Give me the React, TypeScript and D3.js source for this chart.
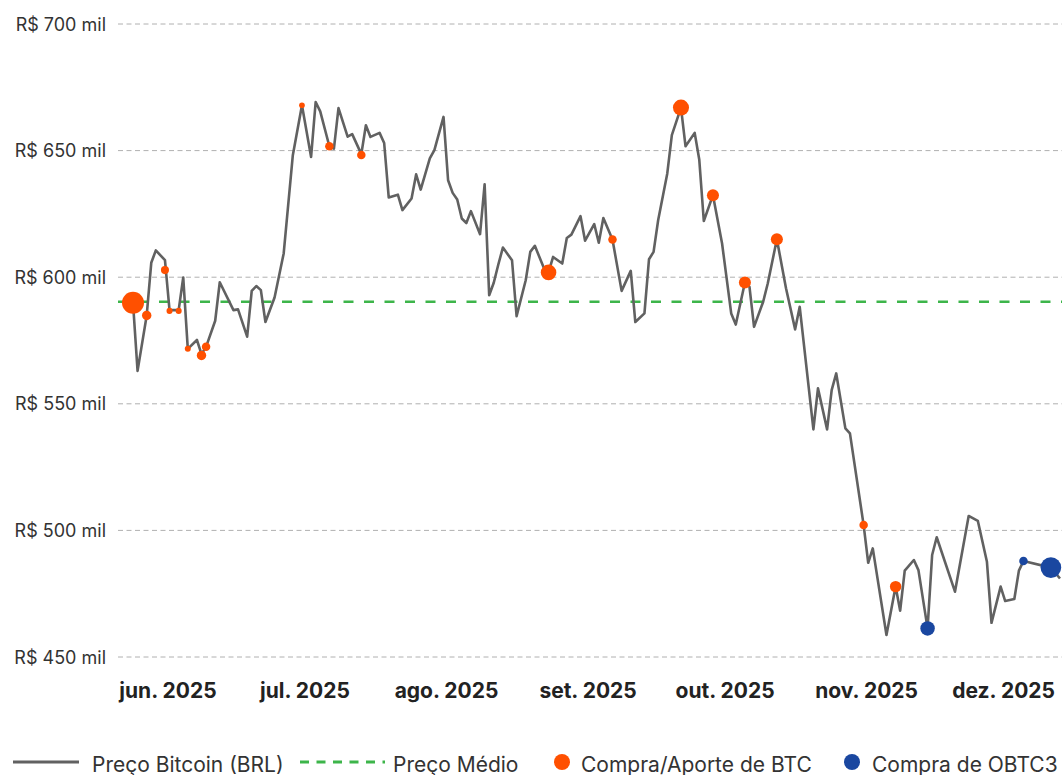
import React from "react";
import * as d3 from "d3";

// ---------- DATA ----------
const priceDates: string[] = [
  "2025-05-25","2025-05-26","2025-05-28","2025-05-29","2025-05-30","2025-06-01","2025-06-02","2025-06-04","2025-06-05","2025-06-06",
  "2025-06-08","2025-06-09","2025-06-10","2025-06-12","2025-06-13","2025-06-16","2025-06-17","2025-06-19","2025-06-20","2025-06-21",
  "2025-06-22","2025-06-23","2025-06-25","2025-06-27","2025-06-29","2025-07-01","2025-07-03","2025-07-04","2025-07-05","2025-07-07",
  "2025-07-08","2025-07-09","2025-07-11","2025-07-12","2025-07-14","2025-07-15","2025-07-16","2025-07-18","2025-07-19","2025-07-20",
  "2025-07-22","2025-07-23","2025-07-25","2025-07-26","2025-07-27","2025-07-29","2025-07-30","2025-08-01","2025-08-02","2025-08-03",
  "2025-08-04","2025-08-05","2025-08-06","2025-08-07","2025-08-09","2025-08-10","2025-08-11","2025-08-12","2025-08-13","2025-08-14",
  "2025-08-16","2025-08-17","2025-08-19","2025-08-20","2025-08-21","2025-08-23","2025-08-24","2025-08-25","2025-08-27","2025-08-28",
  "2025-08-29","2025-08-31","2025-09-01","2025-09-03","2025-09-04","2025-09-05","2025-09-07","2025-09-09","2025-09-11","2025-09-12",
  "2025-09-14","2025-09-15","2025-09-16","2025-09-17","2025-09-19","2025-09-20","2025-09-22","2025-09-23","2025-09-25","2025-09-26",
  "2025-09-27","2025-09-29","2025-10-01","2025-10-03","2025-10-04","2025-10-06","2025-10-07","2025-10-08","2025-10-10","2025-10-11",
  "2025-10-13","2025-10-15","2025-10-17","2025-10-18","2025-10-21","2025-10-22","2025-10-24","2025-10-25","2025-10-26","2025-10-28",
  "2025-10-29","2025-11-01","2025-11-02","2025-11-03","2025-11-06","2025-11-08","2025-11-09","2025-11-10","2025-11-12","2025-11-13",
  "2025-11-15","2025-11-16","2025-11-17","2025-11-21","2025-11-24","2025-11-26","2025-11-28","2025-11-29","2025-12-01","2025-12-02",
  "2025-12-04","2025-12-05","2025-12-06","2025-12-12","2025-12-14",
];
const priceValues: number[] = [
  589.9,563.0,584.9,605.7,610.6,606.7,587.0,587.0,599.9,571.7,
  575.2,569.6,572.5,582.8,598.0,587.0,587.3,576.5,594.6,596.5,
  594.9,582.3,592.0,609.4,648.2,667.9,647.5,669.2,665.5,651.7,
  650.8,666.8,655.5,656.5,648.6,660.0,655.4,657.0,653.0,631.5,
  632.6,626.5,631.1,640.6,634.6,646.9,650.2,663.3,638.3,633.3,
  630.7,623.2,621.4,626.1,617.0,636.7,592.9,597.8,605.0,611.7,
  606.7,584.6,598.8,610.0,612.4,603.5,602.0,608.0,605.4,615.5,
  616.8,624.1,614.4,621.0,613.6,623.4,614.9,594.6,602.5,582.3,
  585.7,607.1,610.0,622.5,641.0,656.1,667.0,651.7,657.0,646.5,
  622.2,632.4,613.3,585.7,581.3,597.9,596.2,580.4,590.3,597.5,
  615.0,595.6,579.4,588.3,539.9,556.1,539.9,555.4,562.0,540.3,
  538.3,502.1,487.2,492.9,458.7,477.8,468.3,484.1,488.3,484.3,
  461.3,490.3,497.3,475.8,505.7,503.8,487.6,463.5,477.8,472.1,
  472.9,484.1,487.9,485.3,481.0,
];

const averagePrice = 590.3; // R$ mil

const btcBuyDates: string[] = [
  "2025-05-25","2025-05-28","2025-06-01","2025-06-02","2025-06-04","2025-06-06","2025-06-09","2025-06-10",
  "2025-07-01","2025-07-07","2025-07-14","2025-08-24","2025-09-07","2025-09-22","2025-09-29","2025-10-06",
  "2025-10-13","2025-11-01","2025-11-08",
];
const btcBuyPrices: number[] = [
  589.9,584.9,602.8,586.7,586.7,571.7,569.1,572.5,
  667.9,651.7,648.3,601.9,614.9,667.0,632.4,597.9,
  615.0,502.1,477.8,
];
const btcBuyAmounts: number[] = [
  6000,1100,800,450,450,450,1100,900,
  400,900,900,3000,900,3200,1800,1800,
  1800,900,1600,
];

const obtcBuyDates: string[] = ["2025-11-15","2025-12-06","2025-12-12"];
const obtcBuyPrices: number[] = [461.3,487.9,485.3];
const obtcBuyAmounts: number[] = [2600,900,5300];

const yTicks: number[] = [450, 500, 550, 600, 650, 700];
const monthTicks: string[] = ["2025-06-01","2025-07-01","2025-08-01","2025-09-01","2025-10-01","2025-11-01","2025-12-01"];
const monthLabels: string[] = ["jun. 2025","jul. 2025","ago. 2025","set. 2025","out. 2025","nov. 2025","dez. 2025"];

const legendLabels: string[] = ["Preço Bitcoin (BRL)", "Preço Médio", "Compra/Aporte de BTC", "Compra de OBTC3"];

// ---------- STYLE ----------
const W = 1062;
const H = 775;
const FONT = "Inter, 'Noto Sans', sans-serif";
const LINE_COLOR = "#616161";
const AVG_COLOR = "#3db54a";
const BTC_COLOR = "#ff5000";
const OBTC_COLOR = "#1a47a0";
const GRID_COLOR = "#b0b0b0";

const parse = d3.utcParse("%Y-%m-%d");

export default function App() {
  const x = d3
    .scaleUtc()
    .domain([parse("2025-05-25")!, parse("2025-12-14")!])
    .range([133, 1060]);
  const y = d3.scaleLinear().domain([450, 700]).range([657, 24]);
  const r = d3.scaleSqrt().domain([0, 6000]).range([0, 11]);

  const series = priceDates.map((d, i) => ({ date: parse(d)!, v: priceValues[i] }));
  const line = d3
    .line<{ date: Date; v: number }>()
    .x((d) => x(d.date))
    .y((d) => y(d.v));

  const btcPts = btcBuyDates.map((d, i) => ({ date: parse(d)!, v: btcBuyPrices[i], a: btcBuyAmounts[i] }));
  const obtcPts = obtcBuyDates.map((d, i) => ({ date: parse(d)!, v: obtcBuyPrices[i], a: obtcBuyAmounts[i] }));

  const gridX0 = 118;
  const legendY = 764;

  return (
    <>
      <style>{`body{margin:0;}`}</style>
      <svg width={W} height={H} style={{ display: "block", fontFamily: FONT }}>
        <defs>
          <clipPath id="plotClip">
            <rect x={gridX0} y={0} width={W - gridX0} height={700} />
          </clipPath>
        </defs>
        {/* grid + y labels */}
        {yTicks.map((t) => (
          <g key={t}>
            <line
              x1={gridX0}
              x2={W}
              y1={y(t)}
              y2={y(t)}
              stroke={GRID_COLOR}
              strokeWidth={1}
              strokeDasharray="5 3.5"
            />
            <text
              x={106}
              y={y(t)}
              textAnchor="end"
              dominantBaseline="central"
              fontSize={18}
              fill="#333"
            >
              {`R$ ${t} mil`}
            </text>
          </g>
        ))}
        {/* month labels */}
        {monthTicks.map((m, i) => (
          <text
            key={m}
            x={x(parse(m)!) + 3}
            y={698}
            textAnchor="middle"
            fontSize={21}
            fontWeight={700}
            fill="#222"
          >
            {monthLabels[i]}
          </text>
        ))}
        <g clipPath="url(#plotClip)">
          {/* average price */}
          <line
            x1={gridX0}
            x2={W}
            y1={y(averagePrice)}
            y2={y(averagePrice)}
            stroke={AVG_COLOR}
            strokeWidth={2.5}
            strokeDasharray="10 10.5"
          />
          {/* price line */}
          <path d={line(series) || ""} fill="none" stroke={LINE_COLOR} strokeWidth={2.6} strokeLinejoin="round" />
          {btcPts.map((p, i) => (
            <circle key={"b" + i} cx={x(p.date)} cy={y(p.v)} r={r(p.a)} fill={BTC_COLOR} />
          ))}
          {obtcPts.map((p, i) => (
            <circle key={"o" + i} cx={x(p.date)} cy={y(p.v)} r={r(p.a)} fill={OBTC_COLOR} />
          ))}
        </g>
        {/* legend */}
        <g fontSize={21} fill="#333">
          <line x1={13} x2={79} y1={legendY - 2} y2={legendY - 2} stroke={LINE_COLOR} strokeWidth={3} />
          <text x={92} y={legendY} dominantBaseline="central">{legendLabels[0]}</text>
          <line x1={300} x2={385} y1={legendY - 2} y2={legendY - 2} stroke={AVG_COLOR} strokeWidth={3} strokeDasharray="9 7.5" />
          <text x={393} y={legendY} dominantBaseline="central">{legendLabels[1]}</text>
          <circle cx={562} cy={legendY - 2} r={8} fill={BTC_COLOR} />
          <text x={581} y={legendY} dominantBaseline="central">{legendLabels[2]}</text>
          <circle cx={852} cy={legendY - 2} r={8} fill={OBTC_COLOR} />
          <text x={872} y={legendY} dominantBaseline="central">{legendLabels[3]}</text>
        </g>
      </svg>
    </>
  );
}
